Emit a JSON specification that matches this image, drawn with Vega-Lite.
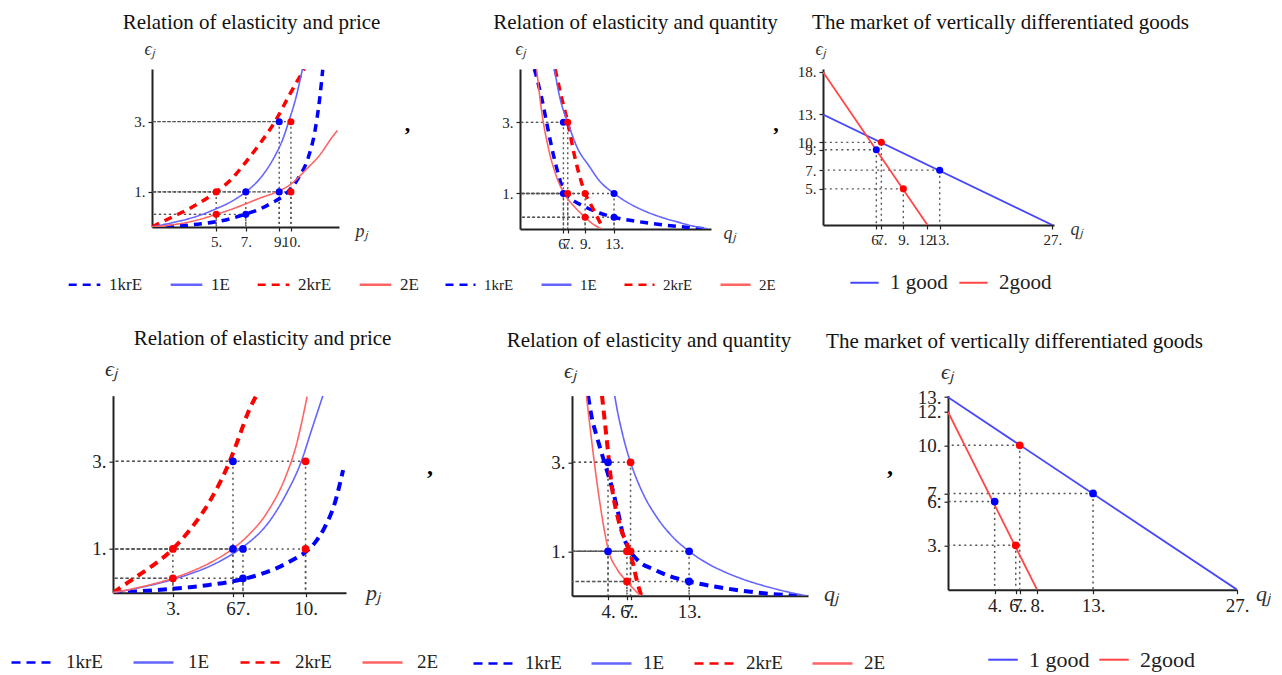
{
"$schema":"https://vega.github.io/schema/vega-lite/v6.json",
"padding":{"left":10,"top":12,"right":0,"bottom":0},
"bounds":"flush","spacing":326.7,
"resolve":{"scale":{"x":"independent","y":"independent","color":"independent","strokeDash":"independent","fill":"independent"},"legend":{"color":"independent","strokeDash":"independent"}},
"config":{"view":{"stroke":null},
 "axis":{"grid":false,"domainColor":"#222","domainWidth":2,"tickColor":"#222","tickWidth":1.2,"tickSize":4,"labelFont":"Liberation Serif","labelColor":"#222","labelOverlap":false,"labelFlush":false,"labelPadding":3,"titleFont":"Liberation Serif","titleFontWeight":"normal","titleColor":"#333","titleFontStyle":"italic","titleAngle":0,"titleAlign":"center","titleBaseline":"middle"},
 "legend":{"labelFont":"Liberation Serif","labelColor":"#222","symbolType":"stroke","symbolStrokeWidth":2.5,"padding":0,"rowPadding":0,"orient":"none","direction":"horizontal"},
 "title":{"font":"Liberation Serif","fontWeight":"normal","color":"#111"}},
"datasets":{
"c1":[
{"s":"1krE","x":0.66,"y":0},{"s":"1krE","x":2,"y":0.02},{"s":"1krE","x":3,"y":0.05},{"s":"1krE","x":4,"y":0.09},{"s":"1krE","x":5,"y":0.15},{"s":"1krE","x":6,"y":0.24},{"s":"1krE","x":6.93,"y":0.36},{"s":"1krE","x":8,"y":0.52},{"s":"1krE","x":8.77,"y":0.69},{"s":"1krE","x":9.67,"y":0.93},{"s":"1krE","x":10.55,"y":1.39},{"s":"1krE","x":11.2,"y":1.95},{"s":"1krE","x":11.66,"y":2.7},{"s":"1krE","x":11.99,"y":3.64},{"s":"1krE","x":12.2,"y":4.48},
{"s":"1E","x":0.66,"y":0},{"s":"1E","x":2,"y":0.12},{"s":"1E","x":3,"y":0.22},{"s":"1E","x":4,"y":0.35},{"s":"1E","x":5,"y":0.52},{"s":"1E","x":6,"y":0.72},{"s":"1E","x":7,"y":1.0},{"s":"1E","x":8,"y":1.4},{"s":"1E","x":9,"y":2.05},{"s":"1E","x":9.5,"y":2.5},{"s":"1E","x":9.9,"y":3.0},{"s":"1E","x":10.4,"y":3.7},{"s":"1E","x":10.83,"y":4.5},
{"s":"2krE","x":0.66,"y":0},{"s":"2krE","x":2,"y":0.28},{"s":"2krE","x":3,"y":0.48},{"s":"2krE","x":4,"y":0.72},{"s":"2krE","x":5,"y":1.0},{"s":"2krE","x":6,"y":1.35},{"s":"2krE","x":7,"y":1.85},{"s":"2krE","x":8,"y":2.4},{"s":"2krE","x":8.97,"y":3.0},{"s":"2krE","x":10,"y":3.8},{"s":"2krE","x":10.95,"y":4.5},
{"s":"2E","x":0.66,"y":0},{"s":"2E","x":2,"y":0.06},{"s":"2E","x":3,"y":0.13},{"s":"2E","x":4,"y":0.23},{"s":"2E","x":5,"y":0.36},{"s":"2E","x":6,"y":0.5},{"s":"2E","x":7,"y":0.66},{"s":"2E","x":8,"y":0.83},{"s":"2E","x":9.26,"y":1.03},{"s":"2E","x":10.05,"y":1.22},{"s":"2E","x":11.06,"y":1.63},{"s":"2E","x":12,"y":2.05},{"s":"2E","x":12.86,"y":2.57},{"s":"2E","x":13.2,"y":2.75}],
"p1":[{"x":5,"y":1,"g":2},{"x":7,"y":1,"g":1},{"x":9.26,"y":3,"g":1},{"x":10.05,"y":3,"g":2},{"x":9.26,"y":1,"g":1},{"x":10.05,"y":1,"g":2},{"x":5,"y":0.36,"g":2},{"x":7,"y":0.36,"g":1}],
"c2":[
{"s":"1krE","x":1.99,"y":4.5},{"s":"1krE","x":3.0,"y":3.68},{"s":"1krE","x":3.92,"y":2.75},{"s":"1krE","x":4.6,"y":2.1},{"s":"1krE","x":5.3,"y":1.54},{"s":"1krE","x":5.8,"y":1.2},{"s":"1krE","x":6.3,"y":0.98},{"s":"1krE","x":7,"y":0.85},{"s":"1krE","x":7.6,"y":0.77},{"s":"1krE","x":9,"y":0.62},{"s":"1krE","x":11,"y":0.45},{"s":"1krE","x":13,"y":0.33},{"s":"1krE","x":16,"y":0.22},{"s":"1krE","x":19.6,"y":0.12},{"s":"1krE","x":23,"y":0.05},{"s":"1krE","x":26,"y":0},
{"s":"1E","x":4.75,"y":4.5},{"s":"1E","x":5.5,"y":3.7},{"s":"1E","x":6.6,"y":3.0},{"s":"1E","x":8,"y":2.25},{"s":"1E","x":9.45,"y":1.8},{"s":"1E","x":11,"y":1.35},{"s":"1E","x":13,"y":1.0},{"s":"1E","x":15,"y":0.73},{"s":"1E","x":17.3,"y":0.5},{"s":"1E","x":20,"y":0.3},{"s":"1E","x":21.9,"y":0.19},{"s":"1E","x":24,"y":0.08},{"s":"1E","x":26,"y":0},
{"s":"2krE","x":4.85,"y":4.5},{"s":"2krE","x":5.76,"y":3.68},{"s":"2krE","x":6.6,"y":3.0},{"s":"2krE","x":7.6,"y":2.0},{"s":"2krE","x":8.3,"y":1.45},{"s":"2krE","x":9.0,"y":1.0},{"s":"2krE","x":9.7,"y":0.72},{"s":"2krE","x":10.4,"y":0.45},{"s":"2krE","x":11.5,"y":0},
{"s":"2E","x":2.3,"y":4.5},{"s":"2E","x":3.0,"y":3.3},{"s":"2E","x":3.92,"y":2.28},{"s":"2E","x":5,"y":1.5},{"s":"2E","x":6.1,"y":1.0},{"s":"2E","x":7.6,"y":0.61},{"s":"2E","x":9.0,"y":0.33},{"s":"2E","x":10,"y":0.15},{"s":"2E","x":11.3,"y":0}],
"p2":[{"x":6,"y":3,"g":1},{"x":6.6,"y":3,"g":2},{"x":6,"y":1,"g":1},{"x":6.6,"y":1,"g":2},{"x":9,"y":1,"g":2},{"x":13,"y":1,"g":1},{"x":9,"y":0.33,"g":2},{"x":13,"y":0.33,"g":1}],
"c3":[{"s":"1 good","x":0,"y":13},{"s":"1 good","x":27,"y":0},{"s":"2good","x":0,"y":18},{"s":"2good","x":12.3,"y":0}],
"p3":[{"x":6.28,"y":8.85,"g":1},{"x":6.87,"y":9.72,"g":2},{"x":9.46,"y":4.25,"g":2},{"x":13.74,"y":6.45,"g":1}],
"c4":[
{"s":"1krE","x":0,"y":0},{"s":"1krE","x":1,"y":0.024},{"s":"1krE","x":2,"y":0.052},{"s":"1krE","x":3,"y":0.086},{"s":"1krE","x":4,"y":0.127},{"s":"1krE","x":5,"y":0.178},{"s":"1krE","x":6,"y":0.243},{"s":"1krE","x":6.75,"y":0.31},{"s":"1krE","x":7.5,"y":0.4},{"s":"1krE","x":8.5,"y":0.56},{"s":"1krE","x":9.3,"y":0.74},{"s":"1krE","x":10,"y":0.93},{"s":"1krE","x":10.5,"y":1.15},{"s":"1krE","x":11,"y":1.5},{"s":"1krE","x":11.5,"y":2.02},{"s":"1krE","x":11.95,"y":2.8},
{"s":"1E","x":0,"y":0},{"s":"1E","x":1,"y":0.08},{"s":"1E","x":2,"y":0.175},{"s":"1E","x":3,"y":0.29},{"s":"1E","x":4,"y":0.43},{"s":"1E","x":5,"y":0.6},{"s":"1E","x":6,"y":0.83},{"s":"1E","x":6.6,"y":1.0},{"s":"1E","x":7,"y":1.13},{"s":"1E","x":8,"y":1.56},{"s":"1E","x":9,"y":2.26},{"s":"1E","x":9.78,"y":3.0},{"s":"1E","x":10.3,"y":3.7},{"s":"1E","x":10.9,"y":4.5},
{"s":"2krE","x":0,"y":0},{"s":"2krE","x":1,"y":0.3},{"s":"2krE","x":2,"y":0.6},{"s":"2krE","x":3.11,"y":1.0},{"s":"2krE","x":4,"y":1.44},{"s":"2krE","x":5,"y":2.07},{"s":"2krE","x":6.06,"y":3.0},{"s":"2krE","x":6.5,"y":3.5},{"s":"2krE","x":7,"y":4.1},{"s":"2krE","x":7.44,"y":4.5},
{"s":"2E","x":0,"y":0},{"s":"2E","x":1,"y":0.087},{"s":"2E","x":2,"y":0.19},{"s":"2E","x":3.11,"y":0.33},{"s":"2E","x":4,"y":0.474},{"s":"2E","x":5,"y":0.674},{"s":"2E","x":6.2,"y":1.0},{"s":"2E","x":7,"y":1.3},{"s":"2E","x":8,"y":1.83},{"s":"2E","x":9,"y":2.69},{"s":"2E","x":9.5,"y":3.34},{"s":"2E","x":10.08,"y":4.48}],
"p4":[{"x":6.23,"y":3,"g":1},{"x":10,"y":3,"g":2},{"x":3.11,"y":1,"g":2},{"x":6.23,"y":1,"g":1},{"x":6.75,"y":1,"g":1},{"x":10,"y":1,"g":2},{"x":3.11,"y":0.33,"g":2},{"x":6.75,"y":0.33,"g":1}],
"c5":[
{"s":"1krE","x":1.78,"y":4.5},{"s":"1krE","x":2.2,"y":4.0},{"s":"1krE","x":2.7,"y":3.62},{"s":"1krE","x":3.6,"y":3.0},{"s":"1krE","x":4.56,"y":2.34},{"s":"1krE","x":5.2,"y":1.8},{"s":"1krE","x":5.67,"y":1.36},{"s":"1krE","x":6.2,"y":1.1},{"s":"1krE","x":7.5,"y":0.76},{"s":"1krE","x":9,"y":0.6},{"s":"1krE","x":11,"y":0.43},{"s":"1krE","x":13,"y":0.32},{"s":"1krE","x":16,"y":0.2},{"s":"1krE","x":18.6,"y":0.12},{"s":"1krE","x":21,"y":0.06},{"s":"1krE","x":25,"y":0},
{"s":"1E","x":4.74,"y":4.5},{"s":"1E","x":5,"y":4.2},{"s":"1E","x":5.5,"y":3.73},{"s":"1E","x":6,"y":3.33},{"s":"1E","x":6.6,"y":2.94},{"s":"1E","x":8,"y":2.25},{"s":"1E","x":9.4,"y":1.77},{"s":"1E","x":11,"y":1.36},{"s":"1E","x":13,"y":1.0},{"s":"1E","x":15,"y":0.73},{"s":"1E","x":17,"y":0.53},{"s":"1E","x":19,"y":0.37},{"s":"1E","x":21,"y":0.24},{"s":"1E","x":23,"y":0.13},{"s":"1E","x":25,"y":0.04},{"s":"1E","x":26,"y":0},
{"s":"2krE","x":3.33,"y":4.5},{"s":"2krE","x":3.8,"y":3.62},{"s":"2krE","x":4.4,"y":2.49},{"s":"2krE","x":5.3,"y":1.59},{"s":"2krE","x":6.4,"y":1.0},{"s":"2krE","x":6.8,"y":0.7},{"s":"2krE","x":7.15,"y":0.38},{"s":"2krE","x":7.7,"y":0},
{"s":"2E","x":1.6,"y":4.5},{"s":"2E","x":2.0,"y":3.8},{"s":"2E","x":2.33,"y":3.24},{"s":"2E","x":3.08,"y":2.11},{"s":"2E","x":4.08,"y":1.0},{"s":"2E","x":5,"y":0.6},{"s":"2E","x":6.1,"y":0.32},{"s":"2E","x":7.0,"y":0.12},{"s":"2E","x":7.6,"y":0}],
"p5":[{"x":4,"y":3,"g":1},{"x":6.5,"y":3,"g":2},{"x":4,"y":1,"g":1},{"x":6.1,"y":1,"g":2},{"x":6.5,"y":1,"g":2},{"x":13,"y":1,"g":1},{"x":6.1,"y":0.32,"g":2},{"x":13,"y":0.32,"g":1}],
"c6":[{"s":"1 good","x":0,"y":13},{"s":"1 good","x":27,"y":0},{"s":"2good","x":0,"y":12},{"s":"2good","x":8.32,"y":0}],
"p6":[{"x":4.36,"y":5.95,"g":1},{"x":6.7,"y":9.75,"g":2},{"x":6.33,"y":3.0,"g":2},{"x":13.55,"y":6.5,"g":1}],
"comma":[{"t":","}],
"blank":[{"t":""}]
},
"vconcat":[
{"bounds":"flush","spacing":0,
 "resolve":{"scale":{"x":"independent","y":"independent","color":"independent","strokeDash":"independent","fill":"independent"},"legend":{"color":"independent","strokeDash":"independent"}},
 "hconcat":[
 {"width":39,"height":158,"data":{"name":"blank"},"mark":{"type":"text"},"encoding":{"text":{"field":"t","type":"nominal"}}},
 {"width":187,"height":158,
  "title":{"text":"Relation of elasticity and price","frame":"group","anchor":"middle","baseline":"alphabetic","offset":-10,"dx":6,"fontSize":21},
  "layer":[
   {"data":{"name":"p1"},"mark":{"type":"rule","color":"#555","strokeWidth":1.4,"strokeDash":[2,3]},
    "encoding":{"x":{"field":"x","type":"quantitative","scale":{"domain":[0.66,13.3],"nice":false,"zero":false},"axis":{"values":[5,7,9.26,10.05],"labelExpr":"['5.','7.','9.','10.'][indexof([5,7,9.26,10.05],datum.value)]","title":"pⱼ","titleX":209,"titleY":4,"labelFontSize":15,"titleFontSize":18}},"x2":{"datum":0.66},
     "y":{"field":"y","type":"quantitative","scale":{"domain":[0,4.5],"nice":false},"axis":{"values":[1,3],"labelExpr":"datum.value + '.'","title":"ϵⱼ","titleX":-3,"titleY":-20,"labelFontSize":15,"titleFontSize":18}}}},
   {"data":{"name":"p1"},"mark":{"type":"rule","color":"#555","strokeWidth":1.4,"strokeDash":[2,3]},
    "encoding":{"x":{"field":"x","type":"quantitative","scale":{"domain":[0.66,13.3],"nice":false,"zero":false},"axis":{"values":[5,7,9.26,10.05],"labelExpr":"['5.','7.','9.','10.'][indexof([5,7,9.26,10.05],datum.value)]","title":"pⱼ","titleX":209,"titleY":4,"labelFontSize":15,"titleFontSize":18}},
     "y":{"field":"y","type":"quantitative","scale":{"domain":[0,4.5],"nice":false},"axis":{"values":[1,3],"labelExpr":"datum.value + '.'","title":"ϵⱼ","titleX":-3,"titleY":-20,"labelFontSize":15,"titleFontSize":18}},"y2":{"datum":0}}},
   {"data":{"name":"c1"},"transform":[{"filter":"indexof(datum.s,'kr')>=0"}],"mark":{"type":"line","clip":true,"strokeWidth":3.5,"interpolate":"monotone"},
    "encoding":{"x":{"field":"x","type":"quantitative","scale":{"domain":[0.66,13.3],"nice":false,"zero":false},"axis":{"values":[5,7,9.26,10.05],"labelExpr":"['5.','7.','9.','10.'][indexof([5,7,9.26,10.05],datum.value)]","title":"pⱼ","titleX":209,"titleY":4,"labelFontSize":15,"titleFontSize":18}},
     "y":{"field":"y","type":"quantitative","scale":{"domain":[0,4.5],"nice":false},"axis":{"values":[1,3],"labelExpr":"datum.value + '.'","title":"ϵⱼ","titleX":-3,"titleY":-20,"labelFontSize":15,"titleFontSize":18}},
     "color":{"field":"s","type":"nominal","scale":{"domain":["1krE","1E","2krE","2E"],"range":["#0000ff","#6464ff","#ff0000","#ff6464"]},"legend":{"title":null,"orient":"none","legendX":-85,"legendY":198,"columns":4,"symbolSize":1000,"labelFontSize":17,"labelOffset":7,"columnPadding":22}},
     "strokeDash":{"field":"s","type":"nominal","scale":{"domain":["1krE","1E","2krE","2E"],"range":[[8,6],[1,0],[8,6],[1,0]]},"legend":{"title":null,"orient":"none","legendX":-85,"legendY":198,"columns":4,"symbolSize":1000,"labelFontSize":17,"labelOffset":7,"columnPadding":22}}}},
   {"data":{"name":"c1"},"transform":[{"filter":"indexof(datum.s,'kr')<0"}],"mark":{"type":"line","clip":true,"strokeWidth":1.6,"interpolate":"monotone"},
    "encoding":{"x":{"field":"x","type":"quantitative","scale":{"domain":[0.66,13.3],"nice":false,"zero":false},"axis":{"values":[5,7,9.26,10.05],"labelExpr":"['5.','7.','9.','10.'][indexof([5,7,9.26,10.05],datum.value)]","title":"pⱼ","titleX":209,"titleY":4,"labelFontSize":15,"titleFontSize":18}},
     "y":{"field":"y","type":"quantitative","scale":{"domain":[0,4.5],"nice":false},"axis":{"values":[1,3],"labelExpr":"datum.value + '.'","title":"ϵⱼ","titleX":-3,"titleY":-20,"labelFontSize":15,"titleFontSize":18}},
     "color":{"field":"s","type":"nominal","scale":{"domain":["1krE","1E","2krE","2E"],"range":["#0000ff","#6464ff","#ff0000","#ff6464"]},"legend":{"title":null,"orient":"none","legendX":-85,"legendY":198,"columns":4,"symbolSize":1000,"labelFontSize":17,"labelOffset":7,"columnPadding":22}},
     "strokeDash":{"field":"s","type":"nominal","scale":{"domain":["1krE","1E","2krE","2E"],"range":[[8,6],[1,0],[8,6],[1,0]]},"legend":{"title":null,"orient":"none","legendX":-85,"legendY":198,"columns":4,"symbolSize":1000,"labelFontSize":17,"labelOffset":7,"columnPadding":22}}}},
   {"data":{"name":"p1"},"mark":{"type":"circle","size":50,"opacity":1},
    "encoding":{"x":{"field":"x","type":"quantitative","scale":{"domain":[0.66,13.3],"nice":false,"zero":false},"axis":{"values":[5,7,9.26,10.05],"labelExpr":"['5.','7.','9.','10.'][indexof([5,7,9.26,10.05],datum.value)]","title":"pⱼ","titleX":209,"titleY":4,"labelFontSize":15,"titleFontSize":18}},
     "y":{"field":"y","type":"quantitative","scale":{"domain":[0,4.5],"nice":false},"axis":{"values":[1,3],"labelExpr":"datum.value + '.'","title":"ϵⱼ","titleX":-3,"titleY":-20,"labelFontSize":15,"titleFontSize":18}},
     "fill":{"field":"g","type":"nominal","scale":{"domain":[1,2],"range":["#0000ff","#ff0000"]},"legend":null}}}
  ]},
 {"width":181,"height":158,"data":{"name":"comma"},"mark":{"type":"text","font":"Liberation Serif","fontSize":22,"fontWeight":"bold","baseline":"alphabetic","dx":-22,"dy":-17},"encoding":{"text":{"field":"t","type":"nominal"}}},
 {"width":191,"height":160,
  "title":{"text":"Relation of elasticity and quantity","frame":"group","anchor":"middle","baseline":"alphabetic","offset":-10,"dx":20,"fontSize":21},
  "layer":[
   {"data":{"name":"p2"},"mark":{"type":"rule","color":"#555","strokeWidth":1.4,"strokeDash":[2,3]},
    "encoding":{"x":{"field":"x","type":"quantitative","scale":{"domain":[0,26.4],"nice":false,"zero":false},"axis":{"values":[6,6.6,9,13],"labelExpr":"['6.','7.','9.','13.'][indexof([6,6.6,9,13],datum.value)]","title":"qⱼ","titleX":209,"titleY":4,"labelFontSize":15,"titleFontSize":18}},"x2":{"datum":0},
     "y":{"field":"y","type":"quantitative","scale":{"domain":[0,4.5],"nice":false},"axis":{"values":[1,3],"labelExpr":"datum.value + '.'","title":"ϵⱼ","titleX":0,"titleY":-20,"labelFontSize":15,"titleFontSize":18}}}},
   {"data":{"name":"p2"},"mark":{"type":"rule","color":"#555","strokeWidth":1.4,"strokeDash":[2,3]},
    "encoding":{"x":{"field":"x","type":"quantitative","scale":{"domain":[0,26.4],"nice":false,"zero":false},"axis":{"values":[6,6.6,9,13],"labelExpr":"['6.','7.','9.','13.'][indexof([6,6.6,9,13],datum.value)]","title":"qⱼ","titleX":209,"titleY":4,"labelFontSize":15,"titleFontSize":18}},
     "y":{"field":"y","type":"quantitative","scale":{"domain":[0,4.5],"nice":false},"axis":{"values":[1,3],"labelExpr":"datum.value + '.'","title":"ϵⱼ","titleX":0,"titleY":-20,"labelFontSize":15,"titleFontSize":18}},"y2":{"datum":0}}},
   {"data":{"name":"c2"},"transform":[{"filter":"indexof(datum.s,'kr')>=0"}],"mark":{"type":"line","clip":true,"strokeWidth":3.5,"interpolate":"monotone"},
    "encoding":{"x":{"field":"x","type":"quantitative","scale":{"domain":[0,26.4],"nice":false,"zero":false},"axis":{"values":[6,6.6,9,13],"labelExpr":"['6.','7.','9.','13.'][indexof([6,6.6,9,13],datum.value)]","title":"qⱼ","titleX":209,"titleY":4,"labelFontSize":15,"titleFontSize":18}},
     "y":{"field":"y","type":"quantitative","scale":{"domain":[0,4.5],"nice":false},"axis":{"values":[1,3],"labelExpr":"datum.value + '.'","title":"ϵⱼ","titleX":0,"titleY":-20,"labelFontSize":15,"titleFontSize":18}},
     "color":{"field":"s","type":"nominal","scale":{"domain":["1krE","1E","2krE","2E"],"range":["#0000ff","#6464ff","#ff0000","#ff6464"]},"legend":{"title":null,"orient":"none","legendX":-76,"legendY":199,"columns":4,"symbolSize":900,"labelFontSize":15,"labelOffset":7,"columnPadding":22}},
     "strokeDash":{"field":"s","type":"nominal","scale":{"domain":["1krE","1E","2krE","2E"],"range":[[8,6],[1,0],[8,6],[1,0]]},"legend":{"title":null,"orient":"none","legendX":-76,"legendY":199,"columns":4,"symbolSize":900,"labelFontSize":15,"labelOffset":7,"columnPadding":22}}}},
   {"data":{"name":"c2"},"transform":[{"filter":"indexof(datum.s,'kr')<0"}],"mark":{"type":"line","clip":true,"strokeWidth":1.6,"interpolate":"monotone"},
    "encoding":{"x":{"field":"x","type":"quantitative","scale":{"domain":[0,26.4],"nice":false,"zero":false},"axis":{"values":[6,6.6,9,13],"labelExpr":"['6.','7.','9.','13.'][indexof([6,6.6,9,13],datum.value)]","title":"qⱼ","titleX":209,"titleY":4,"labelFontSize":15,"titleFontSize":18}},
     "y":{"field":"y","type":"quantitative","scale":{"domain":[0,4.5],"nice":false},"axis":{"values":[1,3],"labelExpr":"datum.value + '.'","title":"ϵⱼ","titleX":0,"titleY":-20,"labelFontSize":15,"titleFontSize":18}},
     "color":{"field":"s","type":"nominal","scale":{"domain":["1krE","1E","2krE","2E"],"range":["#0000ff","#6464ff","#ff0000","#ff6464"]},"legend":{"title":null,"orient":"none","legendX":-76,"legendY":199,"columns":4,"symbolSize":900,"labelFontSize":15,"labelOffset":7,"columnPadding":22}},
     "strokeDash":{"field":"s","type":"nominal","scale":{"domain":["1krE","1E","2krE","2E"],"range":[[8,6],[1,0],[8,6],[1,0]]},"legend":{"title":null,"orient":"none","legendX":-76,"legendY":199,"columns":4,"symbolSize":900,"labelFontSize":15,"labelOffset":7,"columnPadding":22}}}},
   {"data":{"name":"p2"},"mark":{"type":"circle","size":50,"opacity":1},
    "encoding":{"x":{"field":"x","type":"quantitative","scale":{"domain":[0,26.4],"nice":false,"zero":false},"axis":{"values":[6,6.6,9,13],"labelExpr":"['6.','7.','9.','13.'][indexof([6,6.6,9,13],datum.value)]","title":"qⱼ","titleX":209,"titleY":4,"labelFontSize":15,"titleFontSize":18}},
     "y":{"field":"y","type":"quantitative","scale":{"domain":[0,4.5],"nice":false},"axis":{"values":[1,3],"labelExpr":"datum.value + '.'","title":"ϵⱼ","titleX":0,"titleY":-20,"labelFontSize":15,"titleFontSize":18}},
     "fill":{"field":"g","type":"nominal","scale":{"domain":[1,2],"range":["#0000ff","#ff0000"]},"legend":null}}}
  ]},
 {"width":112,"height":158,"data":{"name":"comma"},"mark":{"type":"text","font":"Liberation Serif","fontSize":22,"fontWeight":"bold","baseline":"alphabetic","dx":9,"dy":-17},"encoding":{"text":{"field":"t","type":"nominal"}}},
 {"width":231,"height":156,
  "title":{"text":"The market of vertically differentiated goods","frame":"group","anchor":"middle","baseline":"alphabetic","offset":-10,"dx":62,"fontSize":21},
  "layer":[
   {"data":{"name":"p3"},"mark":{"type":"rule","color":"#555","strokeWidth":1.4,"strokeDash":[2,3.5]},
    "encoding":{"x":{"field":"x","type":"quantitative","scale":{"domain":[0,27.2],"nice":false,"zero":false},"axis":{"values":[6.28,6.87,9.46,12.3,13.74,27],"labelExpr":"['6.','7.','9.','12.','13.','27.'][indexof([6.28,6.87,9.46,12.3,13.74,27],datum.value)]","title":"qⱼ","titleX":253,"titleY":4,"labelFontSize":15,"titleFontSize":18}},"x2":{"datum":0},
     "y":{"field":"y","type":"quantitative","scale":{"domain":[0,18.35],"nice":false},"axis":{"values":[4.25,6.45,8.85,9.72,13,18],"labelExpr":"['5.','7.','9.','10.','13.','18.'][indexof([4.25,6.45,8.85,9.72,13,18],datum.value)]","title":"ϵⱼ","titleX":-3,"titleY":-20,"labelFontSize":15,"titleFontSize":18}}}},
   {"data":{"name":"p3"},"mark":{"type":"rule","color":"#555","strokeWidth":1.4,"strokeDash":[2,3.5]},
    "encoding":{"x":{"field":"x","type":"quantitative","scale":{"domain":[0,27.2],"nice":false,"zero":false},"axis":{"values":[6.28,6.87,9.46,12.3,13.74,27],"labelExpr":"['6.','7.','9.','12.','13.','27.'][indexof([6.28,6.87,9.46,12.3,13.74,27],datum.value)]","title":"qⱼ","titleX":253,"titleY":4,"labelFontSize":15,"titleFontSize":18}},
     "y":{"field":"y","type":"quantitative","scale":{"domain":[0,18.35],"nice":false},"axis":{"values":[4.25,6.45,8.85,9.72,13,18],"labelExpr":"['5.','7.','9.','10.','13.','18.'][indexof([4.25,6.45,8.85,9.72,13,18],datum.value)]","title":"ϵⱼ","titleX":-3,"titleY":-20,"labelFontSize":15,"titleFontSize":18}},"y2":{"datum":0}}},
   {"data":{"name":"c3"},"mark":{"type":"line","clip":true,"strokeWidth":1.8},
    "encoding":{"x":{"field":"x","type":"quantitative","scale":{"domain":[0,27.2],"nice":false,"zero":false},"axis":{"values":[6.28,6.87,9.46,12.3,13.74,27],"labelExpr":"['6.','7.','9.','12.','13.','27.'][indexof([6.28,6.87,9.46,12.3,13.74,27],datum.value)]","title":"qⱼ","titleX":253,"titleY":4,"labelFontSize":15,"titleFontSize":18}},
     "y":{"field":"y","type":"quantitative","scale":{"domain":[0,18.35],"nice":false},"axis":{"values":[4.25,6.45,8.85,9.72,13,18],"labelExpr":"['5.','7.','9.','10.','13.','18.'][indexof([4.25,6.45,8.85,9.72,13,18],datum.value)]","title":"ϵⱼ","titleX":-3,"titleY":-20,"labelFontSize":15,"titleFontSize":18}},
     "color":{"field":"s","type":"nominal","scale":{"domain":["1 good","2good"],"range":["#4646ff","#ff4646"]},"legend":{"title":null,"orient":"none","legendX":26,"legendY":198,"columns":2,"symbolSize":800,"symbolStrokeWidth":2,"labelFontSize":21,"labelOffset":10,"columnPadding":7}}}},
   {"data":{"name":"p3"},"mark":{"type":"circle","size":50,"opacity":1},
    "encoding":{"x":{"field":"x","type":"quantitative","scale":{"domain":[0,27.2],"nice":false,"zero":false},"axis":{"values":[6.28,6.87,9.46,12.3,13.74,27],"labelExpr":"['6.','7.','9.','12.','13.','27.'][indexof([6.28,6.87,9.46,12.3,13.74,27],datum.value)]","title":"qⱼ","titleX":253,"titleY":4,"labelFontSize":15,"titleFontSize":18}},
     "y":{"field":"y","type":"quantitative","scale":{"domain":[0,18.35],"nice":false},"axis":{"values":[4.25,6.45,8.85,9.72,13,18],"labelExpr":"['5.','7.','9.','10.','13.','18.'][indexof([4.25,6.45,8.85,9.72,13,18],datum.value)]","title":"ϵⱼ","titleX":-3,"titleY":-20,"labelFontSize":15,"titleFontSize":18}},
     "fill":{"field":"g","type":"nominal","scale":{"domain":[1,2],"range":["#0000ff","#ff0000"]},"legend":null}}}
  ]}
 ]},
{"bounds":"flush","spacing":0,
 "resolve":{"scale":{"x":"independent","y":"independent","color":"independent","strokeDash":"independent","fill":"independent"},"legend":{"color":"independent","strokeDash":"independent"}},
 "hconcat":[
 {"width":233,"height":197,
  "title":{"text":"Relation of elasticity and price","frame":"group","anchor":"middle","baseline":"alphabetic","offset":-8,"dx":33,"fontSize":21},
  "layer":[
   {"data":{"name":"p4"},"mark":{"type":"rule","color":"#555","strokeWidth":1.5,"strokeDash":[2,3.5]},
    "encoding":{"x":{"field":"x","type":"quantitative","scale":{"domain":[0,12.1],"nice":false,"zero":false},"axis":{"values":[3.11,6.23,6.75,10],"labelExpr":"['3.','6.','7.','10.'][indexof([3.11,6.23,6.75,10],datum.value)]","title":"pⱼ","titleX":260,"titleY":0,"labelFontSize":19,"titleFontSize":22}},"x2":{"datum":0},
     "y":{"field":"y","type":"quantitative","scale":{"domain":[0,4.5],"nice":false},"axis":{"values":[1,3],"labelExpr":"datum.value + '.'","title":"ϵⱼ","titleX":-2,"titleY":-27,"labelFontSize":19,"titleFontSize":22}}}},
   {"data":{"name":"p4"},"mark":{"type":"rule","color":"#555","strokeWidth":1.5,"strokeDash":[2,3.5]},
    "encoding":{"x":{"field":"x","type":"quantitative","scale":{"domain":[0,12.1],"nice":false,"zero":false},"axis":{"values":[3.11,6.23,6.75,10],"labelExpr":"['3.','6.','7.','10.'][indexof([3.11,6.23,6.75,10],datum.value)]","title":"pⱼ","titleX":260,"titleY":0,"labelFontSize":19,"titleFontSize":22}},
     "y":{"field":"y","type":"quantitative","scale":{"domain":[0,4.5],"nice":false},"axis":{"values":[1,3],"labelExpr":"datum.value + '.'","title":"ϵⱼ","titleX":-2,"titleY":-27,"labelFontSize":19,"titleFontSize":22}},"y2":{"datum":0}}},
   {"data":{"name":"c4"},"transform":[{"filter":"indexof(datum.s,'kr')>=0"}],"mark":{"type":"line","clip":true,"strokeWidth":4,"interpolate":"monotone"},
    "encoding":{"x":{"field":"x","type":"quantitative","scale":{"domain":[0,12.1],"nice":false,"zero":false},"axis":{"values":[3.11,6.23,6.75,10],"labelExpr":"['3.','6.','7.','10.'][indexof([3.11,6.23,6.75,10],datum.value)]","title":"pⱼ","titleX":260,"titleY":0,"labelFontSize":19,"titleFontSize":22}},
     "y":{"field":"y","type":"quantitative","scale":{"domain":[0,4.5],"nice":false},"axis":{"values":[1,3],"labelExpr":"datum.value + '.'","title":"ϵⱼ","titleX":-2,"titleY":-27,"labelFontSize":19,"titleFontSize":22}},
     "color":{"field":"s","type":"nominal","scale":{"domain":["1krE","1E","2krE","2E"],"range":["#0000ff","#6464ff","#ff0000","#ff6464"]},"legend":{"title":null,"orient":"none","legendX":-103,"legendY":245,"columns":4,"symbolSize":1600,"labelFontSize":19,"labelOffset":13,"columnPadding":25}},
     "strokeDash":{"field":"s","type":"nominal","scale":{"domain":["1krE","1E","2krE","2E"],"range":[[9,6],[1,0],[9,6],[1,0]]},"legend":{"title":null,"orient":"none","legendX":-103,"legendY":245,"columns":4,"symbolSize":1600,"labelFontSize":19,"labelOffset":13,"columnPadding":25}}}},
   {"data":{"name":"c4"},"transform":[{"filter":"indexof(datum.s,'kr')<0"}],"mark":{"type":"line","clip":true,"strokeWidth":1.6,"interpolate":"monotone"},
    "encoding":{"x":{"field":"x","type":"quantitative","scale":{"domain":[0,12.1],"nice":false,"zero":false},"axis":{"values":[3.11,6.23,6.75,10],"labelExpr":"['3.','6.','7.','10.'][indexof([3.11,6.23,6.75,10],datum.value)]","title":"pⱼ","titleX":260,"titleY":0,"labelFontSize":19,"titleFontSize":22}},
     "y":{"field":"y","type":"quantitative","scale":{"domain":[0,4.5],"nice":false},"axis":{"values":[1,3],"labelExpr":"datum.value + '.'","title":"ϵⱼ","titleX":-2,"titleY":-27,"labelFontSize":19,"titleFontSize":22}},
     "color":{"field":"s","type":"nominal","scale":{"domain":["1krE","1E","2krE","2E"],"range":["#0000ff","#6464ff","#ff0000","#ff6464"]},"legend":{"title":null,"orient":"none","legendX":-103,"legendY":245,"columns":4,"symbolSize":1600,"labelFontSize":19,"labelOffset":13,"columnPadding":25}},
     "strokeDash":{"field":"s","type":"nominal","scale":{"domain":["1krE","1E","2krE","2E"],"range":[[9,6],[1,0],[9,6],[1,0]]},"legend":{"title":null,"orient":"none","legendX":-103,"legendY":245,"columns":4,"symbolSize":1600,"labelFontSize":19,"labelOffset":13,"columnPadding":25}}}},
   {"data":{"name":"p4"},"mark":{"type":"circle","size":60,"opacity":1},
    "encoding":{"x":{"field":"x","type":"quantitative","scale":{"domain":[0,12.1],"nice":false,"zero":false},"axis":{"values":[3.11,6.23,6.75,10],"labelExpr":"['3.','6.','7.','10.'][indexof([3.11,6.23,6.75,10],datum.value)]","title":"pⱼ","titleX":260,"titleY":0,"labelFontSize":19,"titleFontSize":22}},
     "y":{"field":"y","type":"quantitative","scale":{"domain":[0,4.5],"nice":false},"axis":{"values":[1,3],"labelExpr":"datum.value + '.'","title":"ϵⱼ","titleX":-2,"titleY":-27,"labelFontSize":19,"titleFontSize":22}},
     "fill":{"field":"g","type":"nominal","scale":{"domain":[1,2],"range":["#0000ff","#ff0000"]},"legend":null}}}
  ]},
 {"width":226,"height":197,"data":{"name":"comma"},"mark":{"type":"text","font":"Liberation Serif","fontSize":24,"fontWeight":"bold","baseline":"alphabetic","dx":-29,"dy":-20},"encoding":{"text":{"field":"t","type":"nominal"}}},
 {"width":236,"height":200,
  "title":{"text":"Relation of elasticity and quantity","frame":"group","anchor":"middle","baseline":"alphabetic","offset":-8,"dx":-41,"fontSize":21},
  "layer":[
   {"data":{"name":"p5"},"mark":{"type":"rule","color":"#555","strokeWidth":1.5,"strokeDash":[2,3.5]},
    "encoding":{"x":{"field":"x","type":"quantitative","scale":{"domain":[0,26.2],"nice":false,"zero":false},"axis":{"values":[4,6.1,6.5,13],"labelExpr":"['4.','6.','7.','13.'][indexof([4,6.1,6.5,13],datum.value)]","title":"qⱼ","titleX":259,"titleY":-2,"labelFontSize":19,"titleFontSize":22}},"x2":{"datum":0},
     "y":{"field":"y","type":"quantitative","scale":{"domain":[0,4.5],"nice":false},"axis":{"values":[1,3],"labelExpr":"datum.value + '.'","title":"ϵⱼ","titleX":-2,"titleY":-25,"labelFontSize":19,"titleFontSize":22}}}},
   {"data":{"name":"p5"},"mark":{"type":"rule","color":"#555","strokeWidth":1.5,"strokeDash":[2,3.5]},
    "encoding":{"x":{"field":"x","type":"quantitative","scale":{"domain":[0,26.2],"nice":false,"zero":false},"axis":{"values":[4,6.1,6.5,13],"labelExpr":"['4.','6.','7.','13.'][indexof([4,6.1,6.5,13],datum.value)]","title":"qⱼ","titleX":259,"titleY":-2,"labelFontSize":19,"titleFontSize":22}},
     "y":{"field":"y","type":"quantitative","scale":{"domain":[0,4.5],"nice":false},"axis":{"values":[1,3],"labelExpr":"datum.value + '.'","title":"ϵⱼ","titleX":-2,"titleY":-25,"labelFontSize":19,"titleFontSize":22}},"y2":{"datum":0}}},
   {"data":{"name":"c5"},"transform":[{"filter":"indexof(datum.s,'kr')>=0"}],"mark":{"type":"line","clip":true,"strokeWidth":4,"interpolate":"monotone"},
    "encoding":{"x":{"field":"x","type":"quantitative","scale":{"domain":[0,26.2],"nice":false,"zero":false},"axis":{"values":[4,6.1,6.5,13],"labelExpr":"['4.','6.','7.','13.'][indexof([4,6.1,6.5,13],datum.value)]","title":"qⱼ","titleX":259,"titleY":-2,"labelFontSize":19,"titleFontSize":22}},
     "y":{"field":"y","type":"quantitative","scale":{"domain":[0,4.5],"nice":false},"axis":{"values":[1,3],"labelExpr":"datum.value + '.'","title":"ϵⱼ","titleX":-2,"titleY":-25,"labelFontSize":19,"titleFontSize":22}},
     "color":{"field":"s","type":"nominal","scale":{"domain":["1krE","1E","2krE","2E"],"range":["#0000ff","#6464ff","#ff0000","#ff6464"]},"legend":{"title":null,"orient":"none","legendX":-100,"legendY":246,"columns":4,"symbolSize":1600,"labelFontSize":19,"labelOffset":10,"columnPadding":24}},
     "strokeDash":{"field":"s","type":"nominal","scale":{"domain":["1krE","1E","2krE","2E"],"range":[[9,6],[1,0],[9,6],[1,0]]},"legend":{"title":null,"orient":"none","legendX":-100,"legendY":246,"columns":4,"symbolSize":1600,"labelFontSize":19,"labelOffset":10,"columnPadding":24}}}},
   {"data":{"name":"c5"},"transform":[{"filter":"indexof(datum.s,'kr')<0"}],"mark":{"type":"line","clip":true,"strokeWidth":1.6,"interpolate":"monotone"},
    "encoding":{"x":{"field":"x","type":"quantitative","scale":{"domain":[0,26.2],"nice":false,"zero":false},"axis":{"values":[4,6.1,6.5,13],"labelExpr":"['4.','6.','7.','13.'][indexof([4,6.1,6.5,13],datum.value)]","title":"qⱼ","titleX":259,"titleY":-2,"labelFontSize":19,"titleFontSize":22}},
     "y":{"field":"y","type":"quantitative","scale":{"domain":[0,4.5],"nice":false},"axis":{"values":[1,3],"labelExpr":"datum.value + '.'","title":"ϵⱼ","titleX":-2,"titleY":-25,"labelFontSize":19,"titleFontSize":22}},
     "color":{"field":"s","type":"nominal","scale":{"domain":["1krE","1E","2krE","2E"],"range":["#0000ff","#6464ff","#ff0000","#ff6464"]},"legend":{"title":null,"orient":"none","legendX":-100,"legendY":246,"columns":4,"symbolSize":1600,"labelFontSize":19,"labelOffset":10,"columnPadding":24}},
     "strokeDash":{"field":"s","type":"nominal","scale":{"domain":["1krE","1E","2krE","2E"],"range":[[9,6],[1,0],[9,6],[1,0]]},"legend":{"title":null,"orient":"none","legendX":-100,"legendY":246,"columns":4,"symbolSize":1600,"labelFontSize":19,"labelOffset":10,"columnPadding":24}}}},
   {"data":{"name":"p5"},"mark":{"type":"circle","size":60,"opacity":1},
    "encoding":{"x":{"field":"x","type":"quantitative","scale":{"domain":[0,26.2],"nice":false,"zero":false},"axis":{"values":[4,6.1,6.5,13],"labelExpr":"['4.','6.','7.','13.'][indexof([4,6.1,6.5,13],datum.value)]","title":"qⱼ","titleX":259,"titleY":-2,"labelFontSize":19,"titleFontSize":22}},
     "y":{"field":"y","type":"quantitative","scale":{"domain":[0,4.5],"nice":false},"axis":{"values":[1,3],"labelExpr":"datum.value + '.'","title":"ϵⱼ","titleX":-2,"titleY":-25,"labelFontSize":19,"titleFontSize":22}},
     "fill":{"field":"g","type":"nominal","scale":{"domain":[1,2],"range":["#0000ff","#ff0000"]},"legend":null}}}
  ]},
 {"width":140,"height":197,"data":{"name":"comma"},"mark":{"type":"text","font":"Liberation Serif","fontSize":24,"fontWeight":"bold","baseline":"alphabetic","dx":12,"dy":-20},"encoding":{"text":{"field":"t","type":"nominal"}}},
 {"width":289,"height":194,
  "title":{"text":"The market of vertically differentiated goods","frame":"group","anchor":"middle","baseline":"alphabetic","offset":-8,"dx":-78,"fontSize":21},
  "layer":[
   {"data":{"name":"p6"},"mark":{"type":"rule","color":"#555","strokeWidth":1.5,"strokeDash":[2,3.5]},
    "encoding":{"x":{"field":"x","type":"quantitative","scale":{"domain":[0,27],"nice":false,"zero":false},"axis":{"values":[4.36,6.33,6.7,8.32,13.55,27],"labelExpr":"['4.','6.','7.','8.','13.','27.'][indexof([4.36,6.33,6.7,8.32,13.55,27],datum.value)]","title":"qⱼ","titleX":315,"titleY":4,"labelFontSize":19,"titleFontSize":22}},"x2":{"datum":0},
     "y":{"field":"y","type":"quantitative","scale":{"domain":[0,13.1],"nice":false},"axis":{"values":[3,5.95,6.5,9.75,12,13],"labelExpr":"['3.','6.','7.','10.','12.','13.'][indexof([3,5.95,6.5,9.75,12,13],datum.value)]","title":"ϵⱼ","titleX":-1,"titleY":-24,"labelFontSize":19,"titleFontSize":22}}}},
   {"data":{"name":"p6"},"mark":{"type":"rule","color":"#555","strokeWidth":1.5,"strokeDash":[2,3.5]},
    "encoding":{"x":{"field":"x","type":"quantitative","scale":{"domain":[0,27],"nice":false,"zero":false},"axis":{"values":[4.36,6.33,6.7,8.32,13.55,27],"labelExpr":"['4.','6.','7.','8.','13.','27.'][indexof([4.36,6.33,6.7,8.32,13.55,27],datum.value)]","title":"qⱼ","titleX":315,"titleY":4,"labelFontSize":19,"titleFontSize":22}},
     "y":{"field":"y","type":"quantitative","scale":{"domain":[0,13.1],"nice":false},"axis":{"values":[3,5.95,6.5,9.75,12,13],"labelExpr":"['3.','6.','7.','10.','12.','13.'][indexof([3,5.95,6.5,9.75,12,13],datum.value)]","title":"ϵⱼ","titleX":-1,"titleY":-24,"labelFontSize":19,"titleFontSize":22}},"y2":{"datum":0}}},
   {"data":{"name":"c6"},"mark":{"type":"line","clip":true,"strokeWidth":1.8},
    "encoding":{"x":{"field":"x","type":"quantitative","scale":{"domain":[0,27],"nice":false,"zero":false},"axis":{"values":[4.36,6.33,6.7,8.32,13.55,27],"labelExpr":"['4.','6.','7.','8.','13.','27.'][indexof([4.36,6.33,6.7,8.32,13.55,27],datum.value)]","title":"qⱼ","titleX":315,"titleY":4,"labelFontSize":19,"titleFontSize":22}},
     "y":{"field":"y","type":"quantitative","scale":{"domain":[0,13.1],"nice":false},"axis":{"values":[3,5.95,6.5,9.75,12,13],"labelExpr":"['3.','6.','7.','10.','12.','13.'][indexof([3,5.95,6.5,9.75,12,13],datum.value)]","title":"ϵⱼ","titleX":-1,"titleY":-24,"labelFontSize":19,"titleFontSize":22}},
     "color":{"field":"s","type":"nominal","scale":{"domain":["1 good","2good"],"range":["#4646ff","#ff4646"]},"legend":{"title":null,"orient":"none","legendX":39,"legendY":248,"columns":2,"symbolSize":870,"symbolStrokeWidth":2,"labelFontSize":22,"labelOffset":10,"columnPadding":5}}}},
   {"data":{"name":"p6"},"mark":{"type":"circle","size":60,"opacity":1},
    "encoding":{"x":{"field":"x","type":"quantitative","scale":{"domain":[0,27],"nice":false,"zero":false},"axis":{"values":[4.36,6.33,6.7,8.32,13.55,27],"labelExpr":"['4.','6.','7.','8.','13.','27.'][indexof([4.36,6.33,6.7,8.32,13.55,27],datum.value)]","title":"qⱼ","titleX":315,"titleY":4,"labelFontSize":19,"titleFontSize":22}},
     "y":{"field":"y","type":"quantitative","scale":{"domain":[0,13.1],"nice":false},"axis":{"values":[3,5.95,6.5,9.75,12,13],"labelExpr":"['3.','6.','7.','10.','12.','13.'][indexof([3,5.95,6.5,9.75,12,13],datum.value)]","title":"ϵⱼ","titleX":-1,"titleY":-24,"labelFontSize":19,"titleFontSize":22}},
     "fill":{"field":"g","type":"nominal","scale":{"domain":[1,2],"range":["#0000ff","#ff0000"]},"legend":null}}}
  ]}
 ]}
]
}
